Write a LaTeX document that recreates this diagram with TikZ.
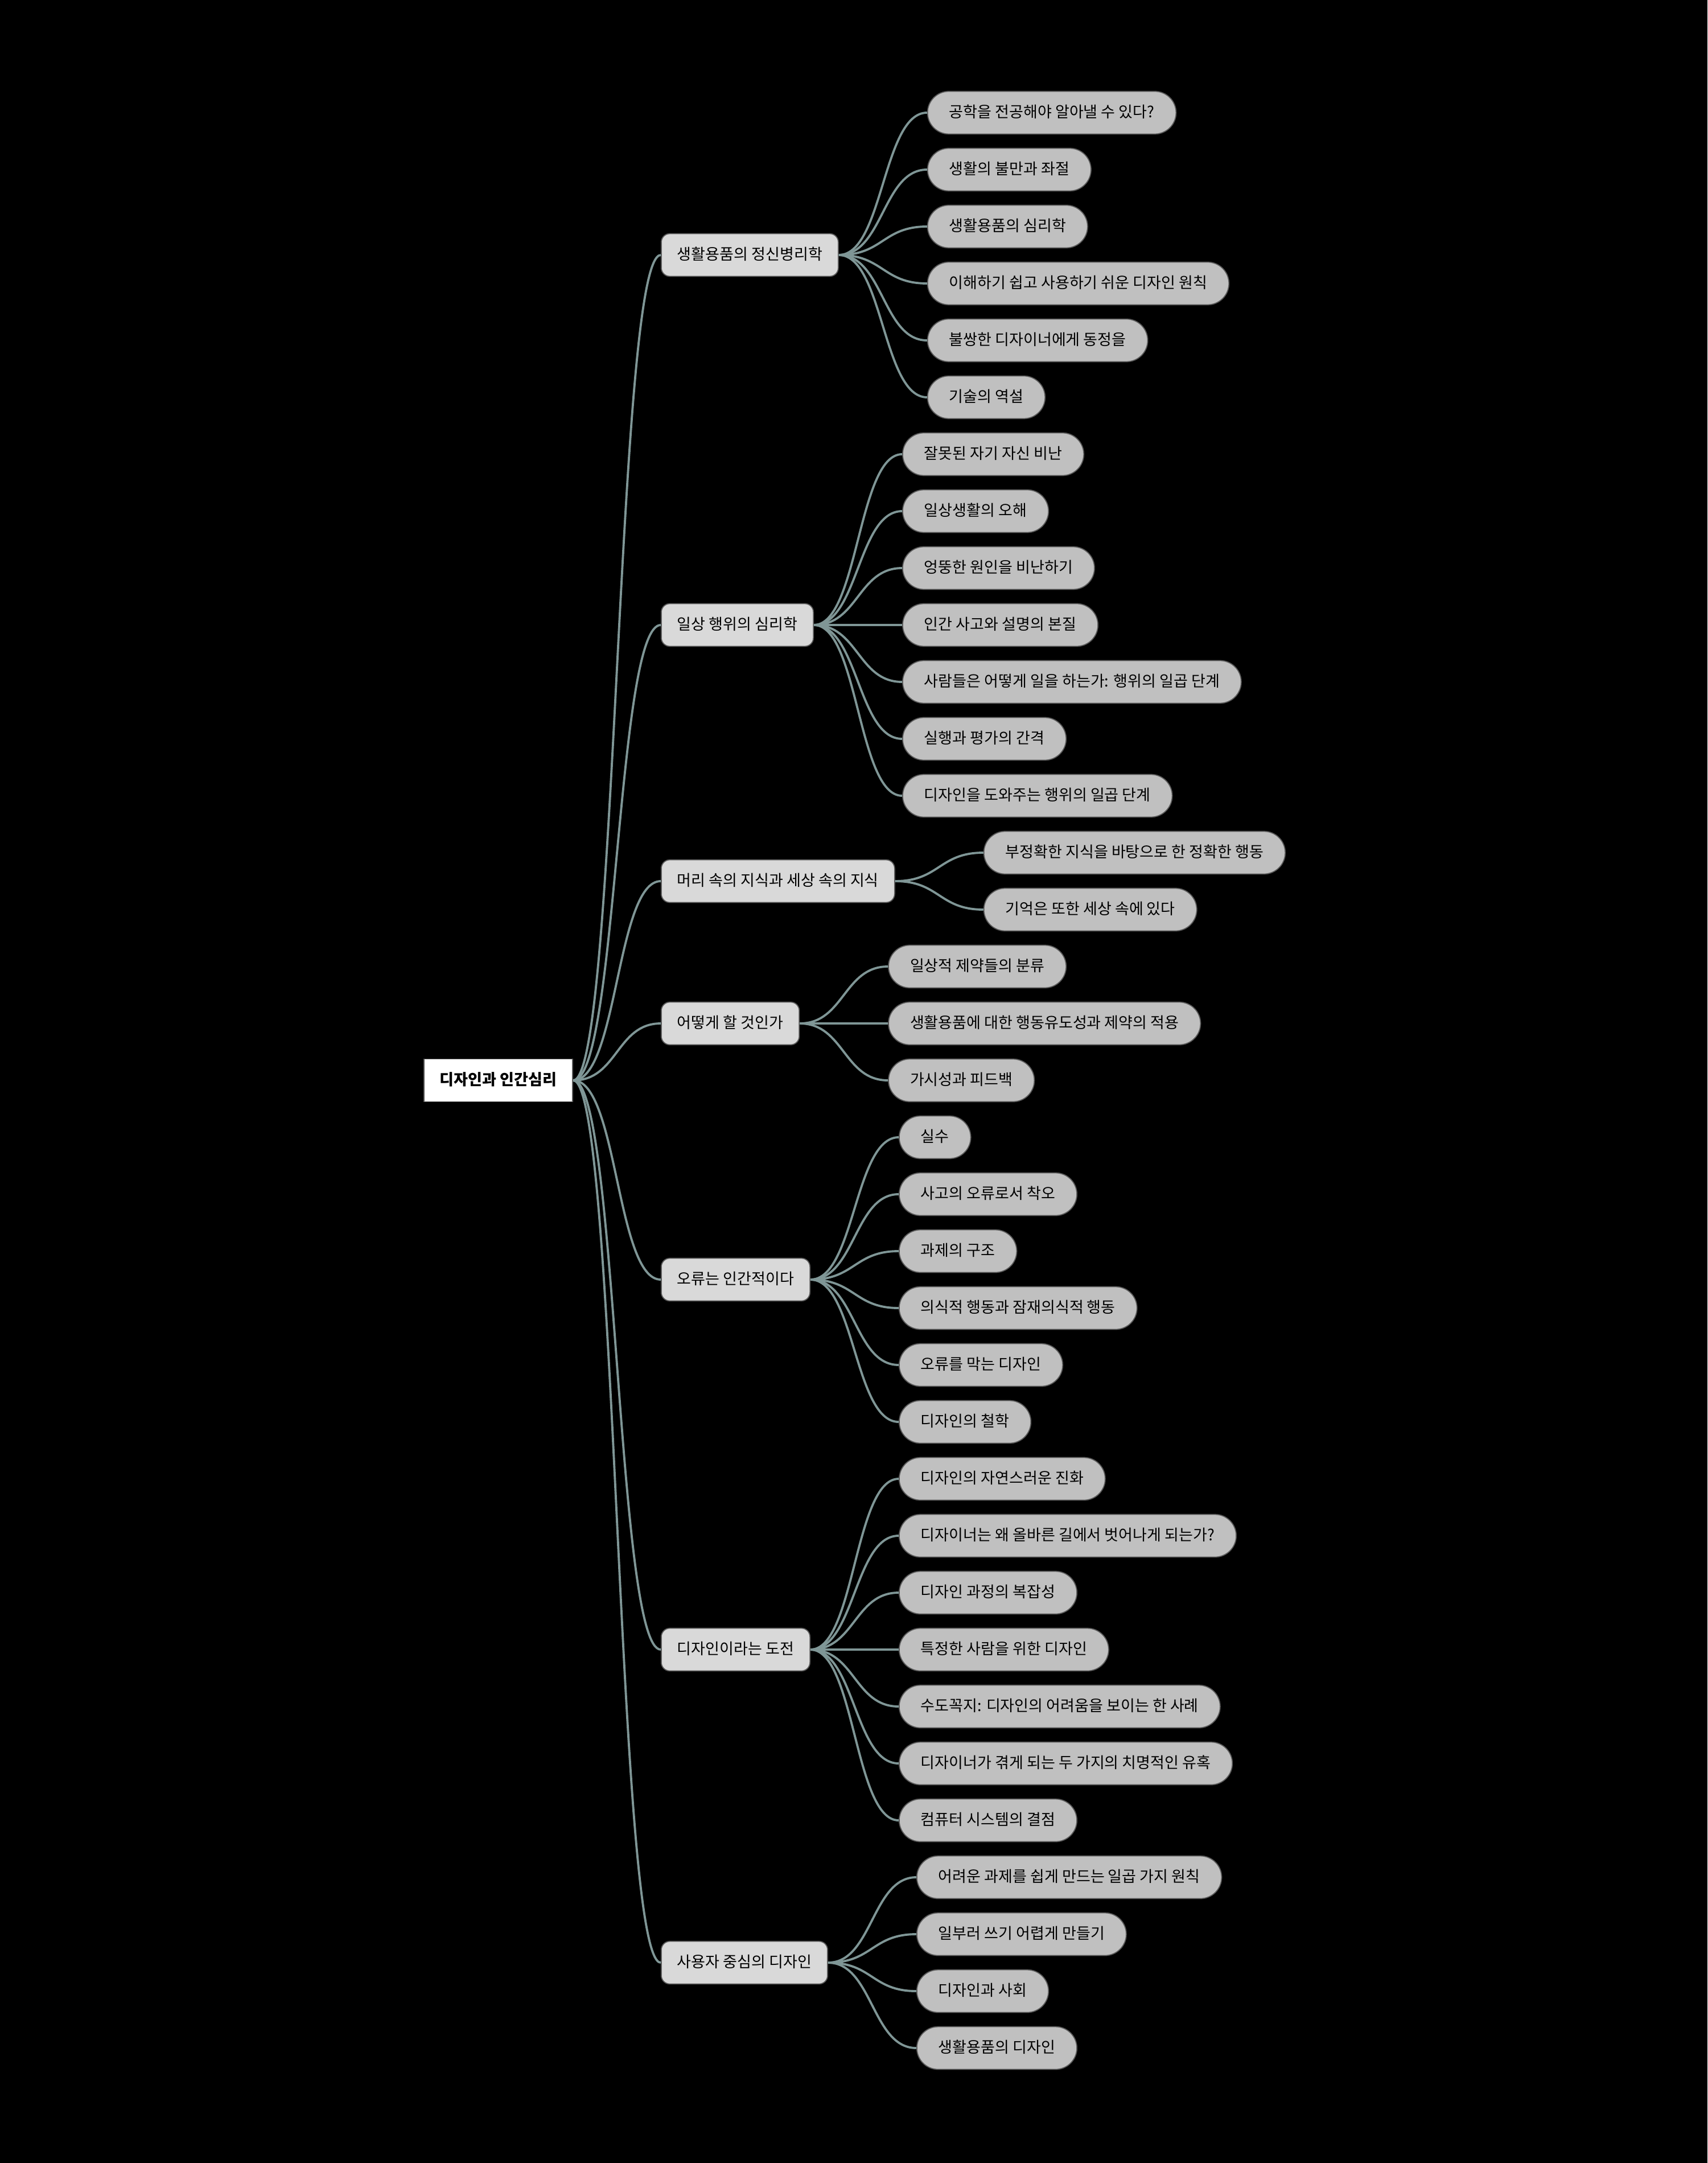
\documentclass[tikz,border=0pt]{standalone}
\usepackage{fontspec}
\setmainfont{Noto Sans CJK KR}
\usetikzlibrary{positioning}
\definecolor{edgecol}{HTML}{7F9696}
\definecolor{topicfill}{HTML}{D9D9D9}
\definecolor{leaffill}{HTML}{C0C0C0}
\definecolor{boxline}{HTML}{5A5A5A}
\begin{document}
\fontsize{7.7pt}{9.2pt}\selectfont
\begin{tikzpicture}[
  every node/.style={text=black, text height=0.22cm, text depth=0.05cm, minimum height=0.75cm, inner ysep=0pt},
  root/.style={draw=boxline, fill=white, line width=0.5pt, inner xsep=0.28cm, font=\bfseries},
  topic/.style={draw=boxline, fill=topicfill, line width=0.5pt, rounded corners=0.15cm, inner xsep=0.28cm, anchor=west},
  leaf/.style={draw=boxline, fill=leaffill, line width=0.5pt, rounded corners=0.375cm, inner xsep=0.38cm, anchor=west},
  edge/.style={draw=edgecol, line width=1.1pt}]
% background
\fill[black] (0,0) rectangle (30,-38);
\useasboundingbox (0,0) rectangle (30,-38);
% root and chapters
\node[root, anchor=west] (root) at (7.44,-18.98) {디자인과 인간심리};
\node[topic] (t1) at (11.61,-4.48) {생활용품의 정신병리학};
\node[topic] (t2) at (11.61,-10.98) {일상 행위의 심리학};
\node[topic] (t3) at (11.61,-15.48) {머리 속의 지식과 세상 속의 지식};
\node[topic] (t4) at (11.61,-17.98) {어떻게 할 것인가};
\node[topic] (t5) at (11.61,-22.48) {오류는 인간적이다};
\node[topic] (t6) at (11.61,-28.98) {디자인이라는 도전};
\node[topic] (t7) at (11.61,-34.48) {사용자 중심의 디자인};
% sections
\coordinate (c1) at ([xshift=1.55cm]t1.east);
\node[leaf] (t1-1) at (c1 |- 0,-1.98) {공학을 전공해야 알아낼 수 있다?};
\node[leaf] (t1-2) at (c1 |- 0,-2.98) {생활의 불만과 좌절};
\node[leaf] (t1-3) at (c1 |- 0,-3.98) {생활용품의 심리학};
\node[leaf] (t1-4) at (c1 |- 0,-4.98) {이해하기 쉽고 사용하기 쉬운 디자인 원칙};
\node[leaf] (t1-5) at (c1 |- 0,-5.98) {불쌍한 디자이너에게 동정을};
\node[leaf] (t1-6) at (c1 |- 0,-6.98) {기술의 역설};
\coordinate (c2) at ([xshift=1.55cm]t2.east);
\node[leaf] (t2-1) at (c2 |- 0,-7.98) {잘못된 자기 자신 비난};
\node[leaf] (t2-2) at (c2 |- 0,-8.98) {일상생활의 오해};
\node[leaf] (t2-3) at (c2 |- 0,-9.98) {엉뚱한 원인을 비난하기};
\node[leaf] (t2-4) at (c2 |- 0,-10.98) {인간 사고와 설명의 본질};
\node[leaf] (t2-5) at (c2 |- 0,-11.98) {사람들은 어떻게 일을 하는가: 행위의 일곱 단계};
\node[leaf] (t2-6) at (c2 |- 0,-12.98) {실행과 평가의 간격};
\node[leaf] (t2-7) at (c2 |- 0,-13.98) {디자인을 도와주는 행위의 일곱 단계};
\coordinate (c3) at ([xshift=1.55cm]t3.east);
\node[leaf] (t3-1) at (c3 |- 0,-14.98) {부정확한 지식을 바탕으로 한 정확한 행동};
\node[leaf] (t3-2) at (c3 |- 0,-15.98) {기억은 또한 세상 속에 있다};
\coordinate (c4) at ([xshift=1.55cm]t4.east);
\node[leaf] (t4-1) at (c4 |- 0,-16.98) {일상적 제약들의 분류};
\node[leaf] (t4-2) at (c4 |- 0,-17.98) {생활용품에 대한 행동유도성과 제약의 적용};
\node[leaf] (t4-3) at (c4 |- 0,-18.98) {가시성과 피드백};
\coordinate (c5) at ([xshift=1.55cm]t5.east);
\node[leaf] (t5-1) at (c5 |- 0,-19.98) {실수};
\node[leaf] (t5-2) at (c5 |- 0,-20.98) {사고의 오류로서 착오};
\node[leaf] (t5-3) at (c5 |- 0,-21.98) {과제의 구조};
\node[leaf] (t5-4) at (c5 |- 0,-22.98) {의식적 행동과 잠재의식적 행동};
\node[leaf] (t5-5) at (c5 |- 0,-23.98) {오류를 막는 디자인};
\node[leaf] (t5-6) at (c5 |- 0,-24.98) {디자인의 철학};
\coordinate (c6) at ([xshift=1.55cm]t6.east);
\node[leaf] (t6-1) at (c6 |- 0,-25.98) {디자인의 자연스러운 진화};
\node[leaf] (t6-2) at (c6 |- 0,-26.98) {디자이너는 왜 올바른 길에서 벗어나게 되는가?};
\node[leaf] (t6-3) at (c6 |- 0,-27.98) {디자인 과정의 복잡성};
\node[leaf] (t6-4) at (c6 |- 0,-28.98) {특정한 사람을 위한 디자인};
\node[leaf] (t6-5) at (c6 |- 0,-29.98) {수도꼭지: 디자인의 어려움을 보이는 한 사례};
\node[leaf] (t6-6) at (c6 |- 0,-30.98) {디자이너가 겪게 되는 두 가지의 치명적인 유혹};
\node[leaf] (t6-7) at (c6 |- 0,-31.98) {컴퓨터 시스템의 결점};
\coordinate (c7) at ([xshift=1.55cm]t7.east);
\node[leaf] (t7-1) at (c7 |- 0,-32.98) {어려운 과제를 쉽게 만드는 일곱 가지 원칙};
\node[leaf] (t7-2) at (c7 |- 0,-33.98) {일부러 쓰기 어렵게 만들기};
\node[leaf] (t7-3) at (c7 |- 0,-34.98) {디자인과 사회};
\node[leaf] (t7-4) at (c7 |- 0,-35.98) {생활용품의 디자인};
% branches
\foreach \t in {t1,t2,t3,t4,t5,t6,t7}
  \draw[edge] (root.east) .. controls +(0.78,0) and +(-0.78,0) .. (\t.west);
\foreach \t/\n in {t1/6,t2/7,t3/2,t4/3,t5/6,t6/7,t7/4}
  \foreach \i in {1,...,\n}
    \draw[edge] (\t.east) .. controls +(0.78,0) and +(-0.78,0) .. (\t-\i.west);
\end{tikzpicture}
\end{document}
